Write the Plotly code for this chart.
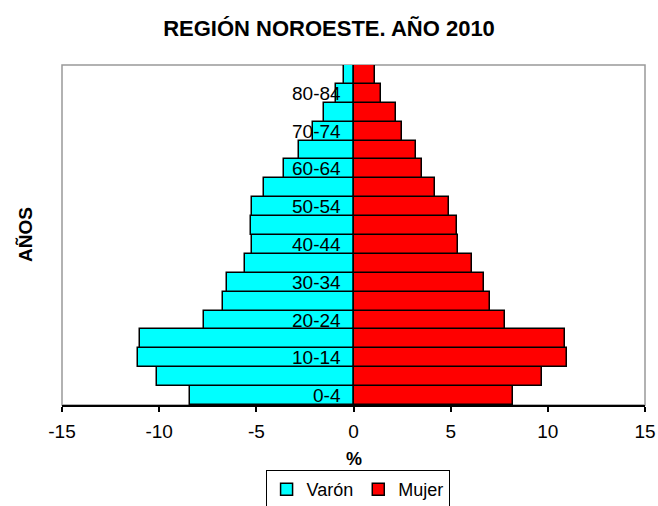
import plotly.graph_objects as go

age_groups = ["0-4", "5-9", "10-14", "15-19", "20-24", "25-29", "30-34", "35-39",
              "40-44", "45-49", "50-54", "55-59", "60-64", "65-69", "70-74",
              "75-79", "80-84", "85+"]
varon = [8.4, 10.1, 11.1, 11.0, 7.7, 6.7, 6.5, 5.6, 5.2, 5.3, 5.2, 4.6, 3.6,
         2.8, 2.1, 1.5, 0.9, 0.5]
mujer = [8.2, 9.7, 11.0, 10.9, 7.8, 7.0, 6.7, 6.1, 5.4, 5.3, 4.9, 4.2, 3.5,
         3.2, 2.5, 2.2, 1.4, 1.1]
shown_labels = ["0-4", "10-14", "20-24", "30-34", "40-44", "50-54", "60-64",
                "70-74", "80-84"]
x_ticks = [-15, -10, -5, 0, 5, 10, 15]

FONT = "Liberation Sans, Arial, sans-serif"
positions = list(range(len(age_groups)))

fig = go.Figure()
fig.add_trace(go.Bar(
    y=positions, x=[-v for v in varon], orientation="h", name="Varón",
    marker=dict(color="#00FFFF", line=dict(color="black", width=1.5)),
))
fig.add_trace(go.Bar(
    y=positions, x=mujer, orientation="h", name="Mujer",
    marker=dict(color="#FF0000", line=dict(color="black", width=1.5)),
))

# age-group labels sitting just left of the zero line
age_annotations = [
    dict(text=a, x=0, y=age_groups.index(a), xref="x", yref="y",
         xanchor="right", yanchor="middle", xshift=-11, showarrow=False,
         font=dict(family=FONT, size=19, color="black"))
    for a in shown_labels
]

fig.update_layout(
    width=658, height=506,
    margin=dict(l=62, r=13, t=65, b=101, autoexpand=False),
    paper_bgcolor="white", plot_bgcolor="white",
    barmode="relative", bargap=0,
    font=dict(family=FONT, size=19, color="black"),
    title=dict(text="<b>REGIÓN NOROESTE. AÑO 2010</b>", x=0.5, xanchor="center",
               y=1 - 28 / 506, yanchor="middle",
               font=dict(family=FONT, size=22, color="black")),
    showlegend=True,
    legend=dict(orientation="h", x=0.507, xanchor="center", y=-0.191, yanchor="top",
                bordercolor="black", borderwidth=1, bgcolor="white",
                font=dict(family=FONT, size=18, color="black"),
                itemwidth=30, tracegroupgap=0),
    xaxis=dict(range=[-15, 15], tickvals=x_ticks, ticktext=[str(t) for t in x_ticks],
               showgrid=False, zeroline=False, showline=True, linecolor="black",
               linewidth=1.5, ticks="outside", ticklen=5, tickcolor="black",
               tickwidth=1.5, automargin=False, ticklabelstandoff=3,
               tickfont=dict(family=FONT, size=19, color="black")),
    yaxis=dict(range=[-0.5, 17.5], showticklabels=False, showgrid=False,
               zeroline=False, ticks="", automargin=False),
    shapes=[dict(type="rect", xref="paper", yref="paper", x0=0, x1=1, y0=0, y1=1,
                 line=dict(color="#999999", width=1.5), layer="below")],
    annotations=age_annotations + [
        dict(text="<b>%</b>", xref="paper", yref="paper", x=0.5, y=-54 / 340,
             yanchor="middle", showarrow=False,
             font=dict(family=FONT, size=18, color="black")),
        dict(text="<b>AÑOS</b>", xref="paper", yref="paper", x=-37 / 583, y=0.5,
             xanchor="center", yanchor="middle", textangle=-90, showarrow=False,
             font=dict(family=FONT, size=19, color="black")),
    ],
)

fig.write_html("out.html")
